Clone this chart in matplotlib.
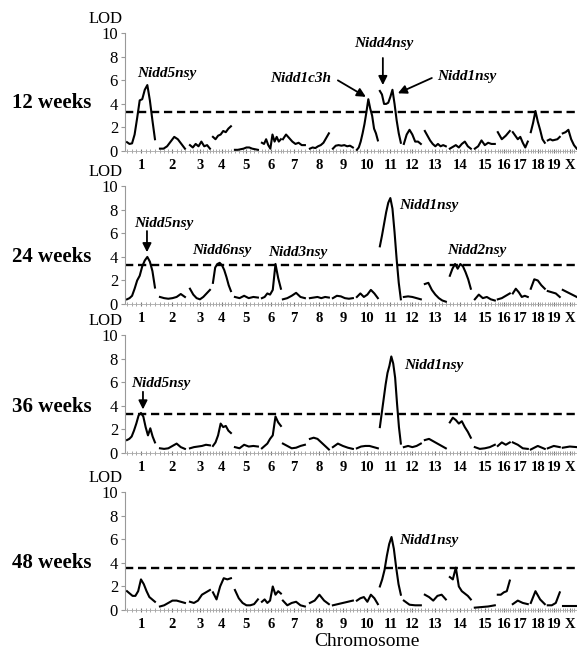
import numpy as np
import matplotlib
matplotlib.use('Agg')
import matplotlib.pyplot as plt

plt.rcParams['font.family'] = ['Liberation Serif', 'DejaVu Serif']

# chromosome labels and map span of each chromosome (genome units)
chrom_labels = ['1', '2', '3', '4', '5', '6', '7', '8', '9', '10',
                '11', '12', '13', '14', '15', '16', '17', '18', '19', 'X']
chrom_start = [2, 35, 65, 88, 110, 137, 158, 185, 208, 232,
               255, 279, 300, 325, 350, 373, 388, 406, 423, 438]
chrom_end = [30, 60, 85, 106, 133, 156, 180, 204, 228, 253,
             276, 296, 321, 346, 370, 385, 403, 420, 435, 452]

# LOD profiles, one list per chromosome
lod_12wk = [
    [0.75, 0.6, 0.65, 1.4, 2.8, 4.3, 4.4, 5.2, 5.6, 4.3, 2.6, 1.0],
    [0.2, 0.2, 0.4, 0.8, 1.2, 1.0, 0.6, 0.2],
    [0.5, 0.3, 0.6, 0.4, 0.8, 0.4, 0.5, 0.2],
    [1.2, 1.0, 1.3, 1.4, 1.7, 1.6, 1.9, 2.1],
    [0.1, 0.1, 0.15, 0.2, 0.3, 0.3, 0.2, 0.15, 0.1],
    [0.7, 0.6, 1.0, 0.5, 0.2, 1.4, 0.8, 1.2, 0.8, 1.0],
    [1.0, 1.4, 1.1, 0.8, 0.6, 0.7, 0.5, 0.5],
    [0.2, 0.3, 0.25, 0.4, 0.5, 0.7, 1.1, 1.5],
    [0.2, 0.45, 0.5, 0.45, 0.5, 0.4, 0.45, 0.3],
    [0.1, 0.3, 0.8, 1.5, 2.3, 3.3, 4.4, 3.6, 3.0, 1.9, 1.5, 0.9],
    [5.1, 4.8, 4.0, 4.0, 4.1, 4.6, 5.2, 4.0, 2.6, 1.5, 0.7],
    [0.6, 1.4, 1.8, 1.4, 0.8, 0.8, 0.6],
    [1.7, 1.3, 0.9, 0.6, 0.4, 0.6, 0.4, 0.5, 0.4],
    [0.2, 0.35, 0.5, 0.3, 0.6, 0.8, 0.4, 0.2],
    [0.2, 0.4, 0.9, 0.5, 0.7, 0.6, 0.6],
    [1.6, 1.0, 1.3, 1.7],
    [1.6, 1.3, 1.0, 1.2, 0.7, 0.3, 0.8],
    [1.6, 2.4, 3.4, 2.5, 1.8, 1.0, 0.7],
    [0.9, 1.0, 0.9, 0.95, 1.0, 1.2],
    [1.5, 1.6, 1.8, 1.0, 0.5, 0.2],
]

lod_24wk = [
    [0.4, 0.5, 0.7, 1.3, 2.0, 2.4, 3.2, 3.7, 4.0, 3.6, 2.8, 1.4],
    [0.6, 0.5, 0.45, 0.5, 0.6, 0.85, 0.6],
    [1.3, 0.8, 0.5, 0.4, 0.6, 0.9, 1.2],
    [1.8, 3.1, 3.4, 3.5, 3.3, 2.9, 2.3, 1.6, 1.1],
    [0.6, 0.5, 0.7, 0.5, 0.6, 0.55],
    [0.5, 0.6, 0.9, 0.8, 1.2, 3.4, 2.2, 1.3],
    [0.4, 0.5, 0.7, 0.95, 0.6, 0.5],
    [0.5, 0.55, 0.6, 0.5, 0.6, 0.55],
    [0.5, 0.7, 0.65, 0.5, 0.45, 0.5],
    [0.6, 0.9, 0.6, 0.8, 1.2, 0.9, 0.5],
    [4.9, 5.8, 6.8, 7.8, 8.6, 9.0, 8.1, 6.1, 3.8, 1.8, 0.4],
    [0.6, 0.65, 0.6, 0.5, 0.4],
    [1.7, 1.8, 1.2, 0.8, 0.5, 0.3, 0.2],
    [2.4, 3.0, 3.4, 3.0, 3.4, 3.2, 2.7, 2.1, 1.3],
    [0.4, 0.8, 0.5, 0.6, 0.4, 0.3],
    [0.4, 0.5, 0.7, 0.9],
    [0.9, 1.3, 1.0, 0.6, 0.7, 0.6],
    [1.3, 2.1, 2.0, 1.6, 1.3],
    [1.1, 1.0, 0.9, 0.6],
    [1.2, 0.9, 0.6],
]

lod_36wk = [
    [1.1, 1.2, 1.4, 1.9, 2.5, 3.2, 3.4, 3.1, 2.2, 1.5, 2.1, 1.4, 0.9],
    [0.4, 0.35, 0.4, 0.6, 0.8, 0.5, 0.35],
    [0.4, 0.5, 0.55, 0.6, 0.7, 0.65],
    [0.6, 0.9, 1.5, 2.5, 2.2, 2.3, 1.9, 1.7],
    [0.5, 0.4, 0.7, 0.55, 0.6, 0.55],
    [0.4, 0.6, 0.8, 1.2, 1.5, 3.1, 2.6, 2.3],
    [0.8, 0.6, 0.4, 0.45, 0.6, 0.7],
    [1.2, 1.3, 1.2, 0.9, 0.6, 0.3],
    [0.5, 0.8, 0.6, 0.45, 0.35],
    [0.4, 0.55, 0.6, 0.6, 0.5, 0.4],
    [2.2, 3.4, 4.6, 5.8, 6.8, 7.4, 8.2, 7.6, 6.4, 4.2, 2.2, 0.8],
    [0.5, 0.6, 0.5, 0.6, 0.8],
    [1.1, 1.2, 1.0, 0.8, 0.6, 0.4],
    [2.6, 3.0, 2.8, 2.5, 2.7, 2.2, 1.8, 1.3],
    [0.5, 0.35, 0.4, 0.5, 0.7],
    [0.6, 0.9, 0.7, 0.9],
    [0.9, 0.7, 0.4, 0.35],
    [0.3, 0.6, 0.35],
    [0.4, 0.6, 0.5],
    [0.45, 0.55, 0.5],
]

lod_48wk = [
    [1.6, 1.4, 1.2, 1.2, 1.6, 2.6, 2.2, 1.6, 1.1, 0.9, 0.7],
    [0.3, 0.4, 0.6, 0.8, 0.8, 0.7, 0.6],
    [0.7, 0.6, 0.8, 1.3, 1.5, 1.7],
    [1.5, 0.9, 2.0, 2.7, 2.6, 2.7],
    [1.7, 1.0, 0.6, 0.4, 0.4, 0.5, 0.9],
    [0.7, 0.9, 0.6, 0.8, 2.0, 1.3, 1.6, 1.4],
    [0.8, 0.4, 0.6, 0.7, 0.4, 0.3],
    [0.6, 0.8, 1.3, 0.8, 0.5],
    [0.4, 0.5, 0.6, 0.7, 0.8],
    [0.8, 1.0, 1.1, 0.7, 1.3, 1.0, 0.5],
    [2.0, 2.6, 3.4, 4.6, 5.6, 6.2, 5.2, 3.6, 2.2, 1.3],
    [0.8, 0.45, 0.4, 0.4],
    [1.3, 1.1, 0.8, 1.2, 1.3, 0.9],
    [2.8, 2.6, 3.6, 2.0, 1.6, 1.4, 1.2, 0.9],
    [0.2, 0.25, 0.3, 0.4],
    [1.3, 1.3, 1.5, 1.6, 2.5],
    [0.5, 0.8, 0.6, 0.5],
    [0.6, 1.6, 0.9, 0.5],
    [0.4, 0.4, 0.6, 1.5],
    [0.3, 0.3],
]

week_labels = ['12 weeks', '24 weeks', '36 weeks', '48 weeks']
thresholds = [3.3, 3.35, 3.3, 3.6]
profiles = [lod_12wk, lod_24wk, lod_36wk, lod_48wk]

# QTL labels: (text, text position, arrow start, arrow tip)
qtl_notes = [
    [('Nidd5nsy', (42, 6.6), None, None),
     ('Nidd1c3h', (176, 6.2), (213, 6.0), (241, 4.6)),
     ('Nidd4nsy', (259, 9.1), (258, 7.9), (258, 5.6)),
     ('Nidd1nsy', (342, 6.3), (307, 6.2), (273, 4.9))],
    [('Nidd5nsy', (39, 6.8), (22, 6.2), (22, 4.4)),
     ('Nidd6nsy', (97, 4.55), None, None),
     ('Nidd3nsy', (173, 4.4), None, None),
     ('Nidd1nsy', (304, 8.4), None, None),
     ('Nidd2nsy', (352, 4.55), None, None)],
    [('Nidd5nsy', (36, 5.9), (18, 5.2), (18, 3.7)),
     ('Nidd1nsy', (309, 7.45), None, None)],
    [('Nidd1nsy', (304, 5.9), None, None)],
]

fig = plt.figure(figsize=(5.77, 6.52), dpi=100)
bottoms = [0.7684, 0.5337, 0.3052, 0.0644]
label_y = [103, 257, 407, 563]

mids = [(s + e) / 2 for s, e in zip(chrom_start, chrom_end)]
minor = []
for s, e in zip(chrom_start, chrom_end):
    minor.extend(np.linspace(s, e, 7))

for i in range(4):
    ax = fig.add_axes([0.2166, bottoms[i], 0.783, 0.186])
    for s, e, vals in zip(chrom_start, chrom_end, profiles[i]):
        x = np.linspace(s, e, len(vals))
        ax.plot(x, vals, color='black', lw=1.5, solid_joinstyle='round')
    ax.axhline(thresholds[i], color='black', lw=1.7, dashes=(3.5, 2))

    ax.set_xlim(0, 452)
    ax.set_ylim(0, 10.3)
    ax.set_yticks([0, 2, 4, 6, 8, 10])
    ax.set_xticks(mids)
    ax.set_xticklabels(chrom_labels, fontweight='bold', fontsize=10.5)
    ax.set_xticks(minor, minor=True)
    ax.tick_params(axis='y', length=3, color='#999999', labelsize=12, pad=2)
    ax.tick_params(axis='x', which='major', length=3, color='#777777',
                   direction='inout', pad=4)
    ax.tick_params(axis='x', which='minor', length=3, color='#999999',
                   direction='inout', width=0.6)
    for side in ['top', 'right']:
        ax.spines[side].set_visible(False)
    ax.spines['left'].set_color('#999999')
    ax.spines['left'].set_linewidth(0.8)
    ax.spines['left'].set_bounds(0, 10)
    ax.spines['bottom'].set_color('#aaaaaa')
    ax.spines['bottom'].set_linewidth(0.6)

    ax.annotate('LOD', xy=(0, 10), xycoords=('axes fraction', 'data'),
                xytext=(-14, 10), textcoords='offset points',
                ha='center', va='center', fontsize=12)

    for text, pos, start, tip in qtl_notes[i]:
        ax.text(pos[0], pos[1], text, ha='center', va='center',
                fontsize=11, fontstyle='italic', fontweight='bold')
        if tip is not None:
            ax.annotate('', xy=tip, xytext=start,
                        arrowprops=dict(arrowstyle='-|>', color='black',
                                        lw=1.3, mutation_scale=13,
                                        shrinkA=0, shrinkB=0))

    fig.text(52 / 577, 1 - label_y[i] / 652, week_labels[i], ha='center',
             va='center', fontsize=15, fontweight='bold')

fig.text(367 / 577, 1 - 641 / 652, 'Chromosome', ha='center', va='center',
         fontsize=14)

fig.savefig('out.png', dpi=100)
